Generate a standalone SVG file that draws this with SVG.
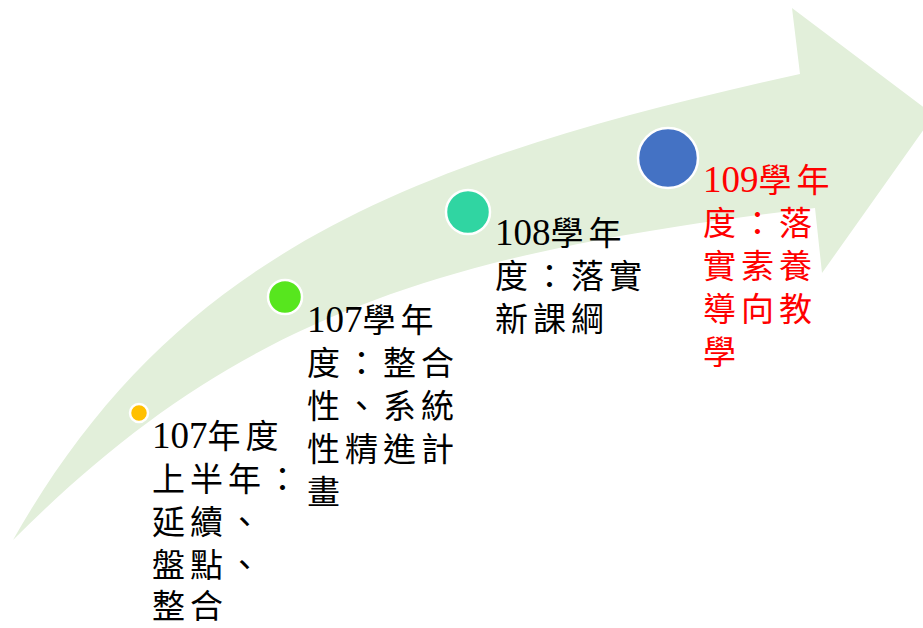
<svg xmlns="http://www.w3.org/2000/svg" width="923" height="628" viewBox="0 0 923 628">
<style>
.t{font-family:"Noto Sans CJK TC","Noto Sans CJK SC",sans-serif;font-size:33px;letter-spacing:5px;fill:#000}
.r{fill:#FF0000}
.n{font-family:"Liberation Serif","Times New Roman",serif;font-size:37px;letter-spacing:0}
.dot{stroke:#FFFFFF;stroke-width:2.5}
</style>
<rect width="923" height="628" fill="#FFFFFF"/>
<g id="arrow">
<path d="M13,540 C173,258 400,162 800,74 L792,8 L934,115 L822,273 L815,208 C415,254 223,330 13,540 Z" fill="#E2EFDA"/>
</g>
<g id="connectors"></g>
<g id="node1">
<circle class="dot" cx="139" cy="413" r="9" fill="#FFC000"/>
<text class="t" x="152" y="448"><tspan class="n">107</tspan>年度<tspan x="152" y="491">上半年：</tspan><tspan x="152" y="534">延續、</tspan><tspan x="152" y="577">盤點、</tspan><tspan x="152" y="618">整合</tspan></text>
</g>
<g id="node2">
<circle class="dot" cx="285" cy="297" r="17" fill="#57E61E"/>
<text class="t" x="307" y="332"><tspan class="n">107</tspan>學年<tspan x="307" y="375">度：整合</tspan><tspan x="307" y="418">性、系統</tspan><tspan x="307" y="461">性精進計</tspan><tspan x="307" y="504">畫</tspan></text>
</g>
<g id="node3">
<circle class="dot" cx="468" cy="212" r="22" fill="#30D5A2"/>
<text class="t" x="495" y="245"><tspan class="n">108</tspan>學年<tspan x="495" y="288">度：落實</tspan><tspan x="495" y="331">新課綱</tspan></text>
</g>
<g id="node4">
<circle class="dot" cx="668" cy="158" r="30" fill="#4472C4"/>
<text class="t r" x="703" y="192"><tspan class="n">109</tspan>學年<tspan x="703" y="235">度：落</tspan><tspan x="703" y="278">實素養</tspan><tspan x="703" y="321">導向教</tspan><tspan x="703" y="364">學</tspan></text>
</g>
</svg>
